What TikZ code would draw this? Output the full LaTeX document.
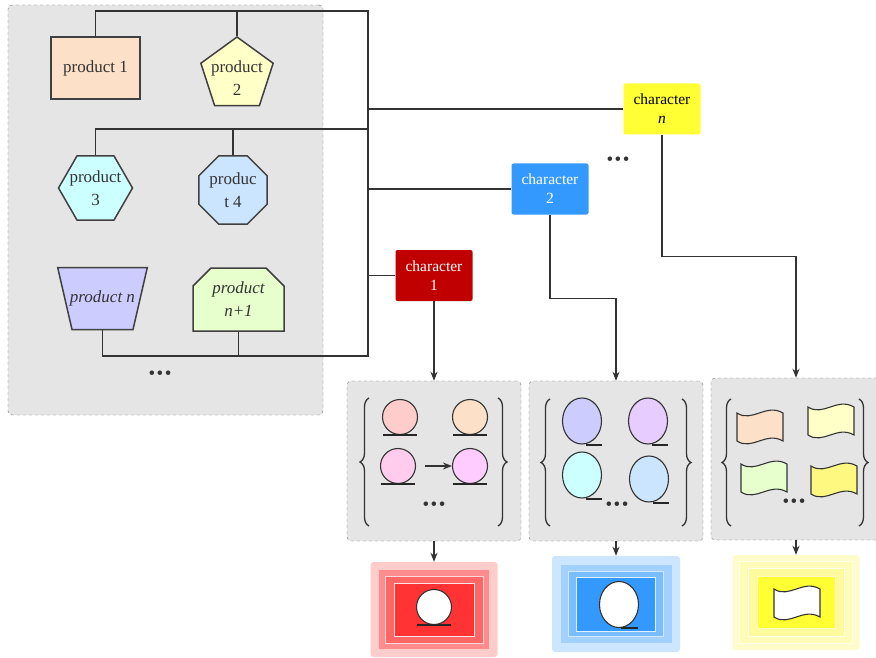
\documentclass[tikz,border=0pt]{standalone}
\usepackage{fontspec}
\setmainfont{Liberation Serif}
\usetikzlibrary{shapes.geometric}
\usetikzlibrary{shapes.misc}
\usetikzlibrary{decorations.pathreplacing}
\usetikzlibrary{arrows.meta}

\definecolor{peach}{HTML}{FDE0C8}
\definecolor{lemon}{HTML}{FFFFC8}
\definecolor{aqua}{HTML}{CCFFFF}
\definecolor{sky}{HTML}{CCE5FF}
\definecolor{lilac}{HTML}{CCCCFF}
\definecolor{mauve}{HTML}{E6CCFF}
\definecolor{rose}{HTML}{FFCCEE}
\definecolor{orchid}{HTML}{FFCCFF}
\definecolor{mint}{HTML}{E6FFCC}
\definecolor{chrred}{HTML}{C00000}
\definecolor{chrblue}{HTML}{3399FF}
\definecolor{chryel}{HTML}{FFFF33}

\begin{document}
\begin{tikzpicture}[x=1pt, y=-1pt, >={Stealth[length=9pt,width=7pt]},
  prod/.style={draw=black!75, line width=1.5pt, text=black!80, align=center, inner sep=0pt,
    font=\fontsize{17}{23}\selectfont},
  chr/.style={rounded corners=2pt, minimum width=77pt, minimum height=51pt, align=center,
    inner sep=0pt, font=\fontsize{15.5}{19}\selectfont},
  panel/.style={draw=black!55, dashed, fill=black!10, rounded corners=4pt},
  wire/.style={draw=black!80, line width=1.5pt},
  dots/.style={text=black!80, font=\fontsize{19}{19}\selectfont},
  ball/.style={circle, draw=black!80, line width=1.1pt, fill=#1, minimum size=35pt, inner sep=0pt},
  egg/.style={ellipse, draw=black!80, line width=1.1pt, fill=#1, minimum width=39pt, minimum height=46pt, inner sep=0pt},
  base/.style={draw=black!85, line width=2pt},
  curly/.style={draw=black!80, line width=1.3pt, decorate, decoration={brace, amplitude=9pt}},
  pics/flag/.style={code={
    \draw[draw=black!80, line width=1.1pt, fill=#1] (-23,-14) .. controls (-8,-4) and (6,-24) .. (23,-14)
      -- (23,14) .. controls (6,4) and (-8,24) .. (-23,14) -- cycle;}}]
\useasboundingbox (0,0) rectangle (876,658);
\clip (0,0) rectangle (876,658);

\node[panel, minimum width=315pt, minimum height=410pt] (box) at (165.5,210) {};

% products
\node[prod, fill=peach, minimum width=89pt, minimum height=62pt] (p1) at (95.5,68) {product 1};
\node[prod, fill=lemon, regular polygon, regular polygon sides=5, minimum size=76pt,
  label={[align=center, yshift=-3pt, text=black!80, font=\fontsize{17}{23}\selectfont]center:product\\2}] (p2) at (237,75) {};
\node[prod, fill=aqua, regular polygon, regular polygon sides=6, minimum size=74pt,
  label={[align=center, text=black!80, font=\fontsize{17}{23}\selectfont]center:product\\3}] (p3) at (95.5,188) {};
\node[prod, fill=sky, regular polygon, regular polygon sides=8, minimum size=74pt,
  label={[align=center, text=black!80, font=\fontsize{17}{23}\selectfont]center:produc\\t 4}] (p4) at (233,190) {};
\node[prod, fill=lilac, trapezium, shape border rotate=180, trapezium angle=77,
  text width=61pt, text height=31pt, text depth=31pt,
  label={[text=black!80, font=\fontsize{17}{23}\selectfont\itshape]center:product n}] (pn) at (102.5,298.5) {};
\node[prod, fill=mint, chamfered rectangle, chamfered rectangle corners={north west,north east},
  chamfered rectangle xsep=15pt, minimum width=91pt, minimum height=63pt,
  font=\fontsize{17}{23}\selectfont\itshape] (pm) at (238.5,299.5) {product\\n+1};
\node[dots] (d0) at (160,375) {\textbullet\kern1.5pt\textbullet\kern1.5pt\textbullet};

% characters
\node[chr, fill=chrred, text=white] (c1) at (434,275.5) {character\\1};
\node[chr, fill=chrblue, text=white] (c2) at (550,189) {character\\2};
\node[chr, fill=chryel, text=black] (cn) at (662,109) {character\\\textit{n}};
\node[dots] (d1) at (618,161) {\textbullet\kern1.5pt\textbullet\kern1.5pt\textbullet};

\coordinate (bt) at (368,11);
\coordinate (bm) at (368,129);
\coordinate (bb) at (368,356);
\draw[wire] (p1.north) |- (bt) -- (bb) -| (pn.south);
\draw[wire] (p2.north) -- (p2.north |- bt);
\draw[wire] (p3.north) |- (bm);
\draw[wire] (p4.north) -- (p4.north |- bm);
\draw[wire] (pm.south) -- (pm.south |- bb);
\draw[wire] (cn.west) -- (cn.west -| bt);
\draw[wire] (c2.west) -- (c2.west -| bt);
\draw[wire] (c1.west) -- (c1.west -| bt);

% panels
\node[panel, minimum width=174pt, minimum height=160pt] (pan1) at (434,461) {};
\node[panel, minimum width=174pt, minimum height=160pt] (pan2) at (616,461) {};
\node[panel, minimum width=170pt, minimum height=162pt] (pan3) at (796,459) {};
\draw[wire,->] (c1.south) -- (pan1.north);
\draw[wire,->] (c2.south) -- ++(0,84) -| (pan2.north);
\draw[wire,->] (cn.south) -- ++(0,122) -| (pan3.north);

\draw[curly] (369,526) -- (369,398);
\draw[curly] (498,398) -- (498,526);
\node[ball=red!20] (b1) at (400,417) {};
\node[ball=peach] (b2) at (470,417) {};
\node[ball=rose] (b3) at (398,466) {};
\node[ball=orchid] (b4) at (470,466) {};
\draw[base] ([xshift=-17pt]b1.south) -- ([xshift=17pt]b1.south);
\draw[base] ([xshift=-17pt]b2.south) -- ([xshift=17pt]b2.south);
\draw[base] ([xshift=-17pt]b3.south) -- ([xshift=17pt]b3.south);
\draw[base] ([xshift=-17pt]b4.south) -- ([xshift=17pt]b4.south);
\draw[wire,->] ([xshift=9pt]b3.east) -- (b4.west);
\node[dots] (d2) at (434,506) {\textbullet\kern1.5pt\textbullet\kern1.5pt\textbullet};

\draw[curly] (550,526) -- (550,399);
\draw[curly] (682,399) -- (682,526);
\node[egg=lilac] (e1) at (582,421) {};
\node[egg=mauve] (e2) at (648,421) {};
\node[egg=aqua] (e3) at (582,475) {};
\node[egg=sky] (e4) at (649,479) {};
\draw[base] ([xshift=4pt]e1.south) -- ([xshift=20pt]e1.south);
\draw[base] ([xshift=4pt]e2.south) -- ([xshift=20pt]e2.south);
\draw[base] ([xshift=4pt]e3.south) -- ([xshift=20pt]e3.south);
\draw[base] ([xshift=4pt]e4.south) -- ([xshift=20pt]e4.south);
\node[dots] (d3) at (617,506) {\textbullet\kern1.5pt\textbullet\kern1.5pt\textbullet};

\draw[curly] (731,526) -- (731,399);
\draw[curly] (859,399) -- (859,526);
\pic at (760,427) {flag=peach};
\pic at (831,421) {flag=lemon};
\pic at (764,478) {flag=mint};
\pic at (834,480) {flag=yellow!50};
\node[dots] (d4) at (794,503) {\textbullet\kern1.5pt\textbullet\kern1.5pt\textbullet};

% results
\node[fill=red!20, rounded corners=3pt, minimum width=127pt, minimum height=95pt] (o1) at (434,609.5) {};
\node[fill=red!45, minimum width=110pt, minimum height=79pt] (o1b) at (o1) {};
\node[fill=red!60, draw=red!15, minimum width=98pt, minimum height=67pt] (o1c) at (o1) {};
\node[fill=red!80, draw=red!10, minimum width=80pt, minimum height=53pt] (o1d) at (o1) {};
\node[ball=white] (w1) at (434,607) {};
\draw[base] ([xshift=-17pt]w1.south) -- ([xshift=17pt]w1.south);

\node[fill=chrblue!25, rounded corners=3pt, minimum width=128pt, minimum height=96pt] (o2) at (616,604) {};
\node[fill=chrblue!45, minimum width=111pt, minimum height=78pt] (o2b) at (o2) {};
\node[fill=chrblue!65, draw=chrblue!20, minimum width=95pt, minimum height=65pt] (o2c) at (o2) {};
\node[fill=chrblue, draw=chrblue!15, minimum width=79pt, minimum height=54pt] (o2d) at (o2) {};
\node[egg=white] (w2) at (619,604.5) {};
\draw[base] ([xshift=2pt]w2.south) -- ([xshift=19pt]w2.south);

\node[fill=yellow!20, rounded corners=3pt, minimum width=127pt, minimum height=95pt] (o3) at (796,602.5) {};
\node[fill=yellow!28, draw=yellow!10, minimum width=113pt, minimum height=82pt] (o3b) at (o3) {};
\node[fill=yellow!38, draw=yellow!10, minimum width=96pt, minimum height=68pt] (o3c) at (o3) {};
\node[fill=chryel, draw=yellow!25, minimum width=78pt, minimum height=52pt] (o3d) at (o3) {};
\pic at (797,603) {flag=white};

\draw[wire,->] (pan1.south) -- (o1.north);
\draw[wire,->] (pan2.south) -- (o2.north);
\draw[wire,->] (pan3.south) -- (o3.north);
\end{tikzpicture}
\end{document}
